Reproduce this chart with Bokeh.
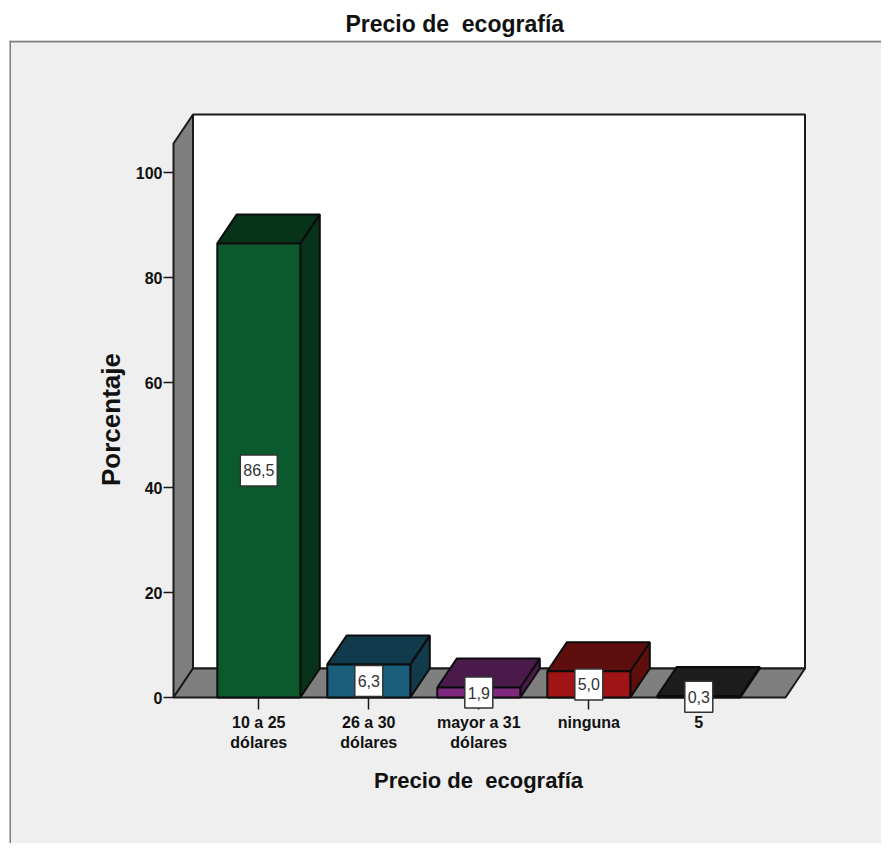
from bokeh.plotting import figure
from bokeh.models import LinearAxis, FixedTicker, Span, Range1d
from bokeh.embed import file_html
from bokeh.resources import INLINE
from bokeh.core.properties import value

categories = ["10 a 25\ndólares", "26 a 30\ndólares", "mayor a 31\ndólares", "ninguna", "5"]
percent = [86.5, 6.3, 1.9, 5.0, 0.3]
percent_labels = ["86,5", "6,3", "1,9", "5,0", "0,3"]
y_ticks = [0, 20, 40, 60, 80, 100]
front_colors = ["#0b5a2e", "#1a5e7c", "#7f2a80", "#a01416", "#222222"]
dark_colors = ["#08331b", "#113a4c", "#4a1a4b", "#5f0e0e", "#1d1d1d"]
title_text = "Precio de \u00a0ecografía"
y_title = "Porcentaje"

FONT = "Liberation Sans"
PX_PER_X = 110.0     # one category
PX_PER_Y = 5.25      # one percent
X0_PX, Y0_PX = 258.3, 697.0   # picture position of category 1 and of 0 %
W, H = 881, 843
FL, FR, FT, FB = 9, W, 40, H

def ux(px):
    return 1 + (px - X0_PX) / PX_PER_X

def uy(py):
    return (Y0_PX - py) / PX_PER_Y

DX = 19.5 / PX_PER_X
DY = 29.0 / PX_PER_Y
BAR_W = 83.0 / PX_PER_X
LEFT, RIGHT = ux(173), ux(785)
TOP = uy(143)

p = figure(width=W, height=H, output_backend="svg", toolbar_location=None,
           x_range=Range1d(ux(FL), ux(FR)), y_range=Range1d(uy(FB), uy(FT)),
           x_axis_type=None, y_axis_type=None, min_border_left=FL, min_border_right=0,
           min_border_top=FT, min_border_bottom=0,
           background_fill_color="#efefef", border_fill_color="#ffffff",
           outline_line_color=None)
p.grid.visible = False

p.title.text = title_text
p.title.align = "left"
p.title.offset = 336
p.title.text_font = FONT
p.title.text_font_size = "23px"
p.title.text_font_style = "bold"
p.title.text_color = "#111111"
p.title.standoff = 7

for s in (Span(location=ux(FL + 0.5), dimension="height", line_color="#808080", line_width=2),
          Span(location=uy(FT + 1), dimension="width", line_color="#808080", line_width=2)):
    p.add_layout(s)

OUT = "#1a1a1a"
# back wall, side wall, floor
p.patch([LEFT + DX, RIGHT + DX, RIGHT + DX, LEFT + DX], [DY, DY, TOP + DY, TOP + DY],
        fill_color="#ffffff", line_color=OUT, line_width=2)
p.patch([LEFT, LEFT + DX, LEFT + DX, LEFT], [0, DY, TOP + DY, TOP],
        fill_color="#7f7f7f", line_color=OUT, line_width=2)
p.patch([LEFT, RIGHT, RIGHT + DX, LEFT + DX], [0, 0, DY, DY],
        fill_color="#7f7f7f", line_color=OUT, line_width=2)

xs = [i + 1 for i in range(len(percent))]
for x, v, fc, dc in zip(xs, percent, front_colors, dark_colors):
    l, r = x - BAR_W / 2, x + BAR_W / 2
    p.patch([r, r + DX, r + DX, r], [0, DY, v + DY, v], fill_color=dc, line_color="#0c0c0c", line_width=2)
    p.patch([l, r, r + DX, l + DX], [v, v, v + DY, v + DY], fill_color=dc, line_color="#0c0c0c", line_width=2)
    p.quad(left=[l], right=[r], bottom=[0], top=[v], fill_color=fc, line_color="#0c0c0c", line_width=2)

mids = [v / 2 for v in percent]
p.rect(x=xs, y=mids, width=[37 if v > 10 else 28 for v in percent],
       height=31, width_units="screen", height_units="screen",
       fill_color="#ffffff", line_color="#333333", line_width=1.5)
p.text(x=xs, y=mids, text=percent_labels, text_align="center", text_baseline="middle",
       text_font=value(FONT), text_font_size="16px", text_color="#333333")

x_axis = LinearAxis(ticker=FixedTicker(ticks=xs), fixed_location=0, bounds=(1, 5),
                    major_label_overrides={x: c for x, c in zip(xs, categories)},
                    axis_line_color=None, minor_tick_line_color=None,
                    major_tick_line_color="#1a1a1a", major_tick_line_width=1.5,
                    major_tick_in=0, major_tick_out=12, major_label_standoff=4,
                    major_label_text_font=FONT, major_label_text_font_size="16px",
                    major_label_text_font_style="bold", major_label_text_color="#111111",
                    axis_label=title_text, axis_label_standoff=14,
                    axis_label_text_font=FONT, axis_label_text_font_size="22px",
                    axis_label_text_font_style="bold", axis_label_text_color="#111111",
                    level="underlay")
p.add_layout(x_axis, "below")

y_axis = LinearAxis(ticker=FixedTicker(ticks=y_ticks), fixed_location=LEFT, bounds=(0, 106),
                    axis_line_color=None, minor_tick_line_color=None,
                    major_tick_line_color="#1a1a1a", major_tick_line_width=1.5,
                    major_tick_in=0, major_tick_out=10, major_label_standoff=1,
                    major_label_text_font=FONT, major_label_text_font_size="16px",
                    major_label_text_font_style="bold", major_label_text_color="#111111",
                    axis_label=y_title, axis_label_standoff=7,
                    axis_label_text_font=FONT, axis_label_text_font_size="26px",
                    axis_label_text_font_style="bold", axis_label_text_color="#111111",
                    level="underlay")
p.add_layout(y_axis, "left")

open("out.html", "w").write(file_html(p, INLINE))
